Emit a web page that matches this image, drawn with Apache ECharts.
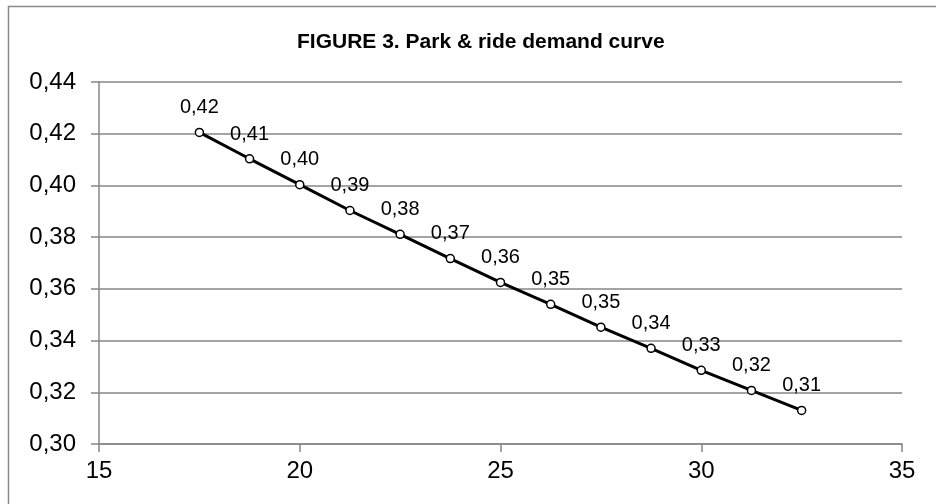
<!DOCTYPE html>
<html>
<head>
<meta charset="utf-8">
<script src="https://cdn.jsdelivr.net/npm/echarts@6/dist/echarts.min.js"></script>
<style>
  html, body { margin: 0; padding: 0; background: #fff; }
  #chart { width: 936px; height: 504px; }
</style>
</head>
<body>
<div id="chart"></div>
<script>
  // data
  var priceX = [17.5, 18.75, 20, 21.25, 22.5, 23.75, 25, 26.25, 27.5, 28.75, 30, 31.25, 32.5];
  var shareY = [0.4205, 0.4103, 0.4003, 0.3903, 0.3811, 0.3717, 0.3625, 0.3540, 0.3452, 0.3370, 0.3285, 0.3207, 0.3130];
  var pointLabels = ['0,42', '0,41', '0,40', '0,39', '0,38', '0,37', '0,36', '0,35', '0,35', '0,34', '0,33', '0,32', '0,31'];

  var seriesData = [];
  for (var i = 0; i < priceX.length; i++) {
    seriesData.push([priceX[i], shareY[i]]);
  }

  var font = 'Liberation Sans, Arial, sans-serif';
  var myChart = echarts.init(document.getElementById('chart'));
  var option = {
    animation: false,
    backgroundColor: '#fff',
    title: {
      text: 'FIGURE 3. Park & ride demand curve',
      left: 292,
      top: 27,
      textStyle: {
        fontFamily: font,
        fontSize: 21,
        fontWeight: 'bold',
        color: '#000'
      }
    },
    // outer chart frame
    graphic: [{
      type: 'rect',
      shape: { x: 8.5, y: 6.5, width: 1000, height: 1000 },
      style: { fill: null, stroke: '#8a8a8a', lineWidth: 1.5 },
      silent: true
    }],
    grid: {
      left: 99,
      right: 34,
      top: 82,
      bottom: 60
    },
    xAxis: {
      type: 'value',
      min: 15,
      max: 35,
      interval: 5,
      axisLine: { lineStyle: { color: '#868686', width: 1.5 } },
      axisTick: { show: true, length: 8, lineStyle: { color: '#868686', width: 1.5 } },
      axisLabel: { color: '#000', fontFamily: font, fontSize: 24, margin: 15 },
      splitLine: { show: false }
    },
    yAxis: {
      type: 'value',
      min: 0.30,
      max: 0.44,
      interval: 0.02,
      axisLine: { show: true, lineStyle: { color: '#868686', width: 1.5 } },
      axisTick: { show: true, length: 8, lineStyle: { color: '#868686', width: 1.5 } },
      axisLabel: {
        color: '#000',
        fontFamily: font,
        fontSize: 24,
        margin: 23,
        padding: [4, 0, 0, 0],
        formatter: function (v) { return v.toFixed(2).replace('.', ','); }
      },
      splitLine: { show: true, lineStyle: { color: '#868686', width: 1.5 } }
    },
    series: [{
      type: 'line',
      data: seriesData,
      symbol: 'circle',
      symbolSize: 8,
      showAllSymbol: true,
      lineStyle: { color: '#000', width: 3 },
      itemStyle: { color: '#fff', borderColor: '#000', borderWidth: 1.5 },
      label: {
        show: true,
        position: 'top',
        distance: 10,
        color: '#000',
        fontFamily: font,
        fontSize: 20,
        formatter: function (p) { return pointLabels[p.dataIndex]; }
      },
      z: 3
    }]
  };
  myChart.setOption(option);
</script>
</body>
</html>
